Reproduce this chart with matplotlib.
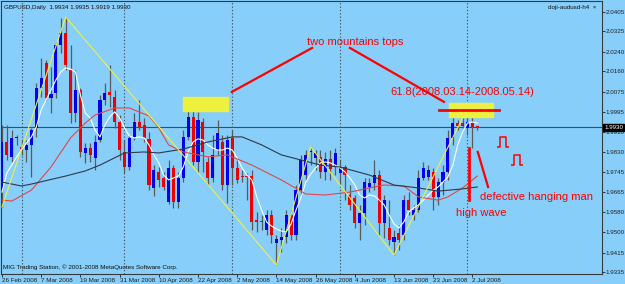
import matplotlib
matplotlib.use("Agg")
import matplotlib.pyplot as plt
from matplotlib.path import Path
from matplotlib.transforms import blended_transform_factory

plt.rcParams['font.family'] = ['Liberation Sans', 'DejaVu Sans']

# daily GBPUSD bars, left to right
opens = [1.9672, 1.9870, 1.9809, 1.9885, 1.9850, 1.9837, 1.9858, 1.9928, 2.0092, 2.0196,
         2.0051, 2.0072, 2.0269, 2.0319, 2.0166, 1.9989, 2.0084, 1.9825, 1.9845, 1.9804,
         1.9878, 2.0043, 2.0076, 2.0055, 1.9952, 1.9829, 1.9767, 1.9887, 1.9952, 1.9940,
         1.9883, 1.9681, 1.9747, 1.9722, 1.9623, 1.9763, 1.9623, 1.9722, 1.9891, 1.9973,
         1.9788, 1.9952, 1.9788, 1.9722, 1.9837, 1.9870, 1.9693, 1.9887, 1.9763, 1.9732,
         1.9732, 1.9730, 1.9549, 1.9543, 1.9508, 1.9570, 1.9455, 1.9467, 1.9479, 1.9570,
         1.9487, 1.9672, 1.9734, 1.9827, 1.9804, 1.9809, 1.9747, 1.9800, 1.9767, 1.9743,
         1.9767, 1.9652, 1.9640, 1.9537, 1.9578, 1.9685, 1.9701, 1.9734, 1.9537, 1.9516,
         1.9459, 1.9496, 1.9487, 1.9631, 1.9570, 1.9590, 1.9722, 1.9726, 1.9747, 1.9644,
         1.9705, 1.9747, 1.9887, 1.9948, 1.9948, 1.9928, 1.9948, 1.9934]
highs = [1.9940, 1.9940, 1.9919, 1.9899, 1.9878, 1.9878, 1.9928, 2.0113, 2.0216, 2.0208,
         2.0179, 2.0282, 2.0380, 2.0384, 2.0269, 2.0166, 2.0092, 1.9866, 1.9866, 1.9899,
         2.0064, 2.0113, 2.0187, 2.0084, 1.9981, 1.9878, 1.9899, 1.9989, 2.0043, 1.9969,
         1.9911, 1.9775, 1.9767, 1.9747, 1.9796, 1.9775, 1.9747, 1.9919, 2.0014, 2.0014,
         1.9994, 1.9969, 1.9809, 1.9899, 1.9961, 1.9899, 1.9899, 1.9919, 1.9796, 1.9755,
         1.9743, 1.9755, 1.9582, 1.9570, 1.9590, 1.9590, 1.9487, 1.9516, 1.9590, 1.9590,
         1.9693, 1.9817, 1.9837, 1.9850, 1.9837, 1.9837, 1.9829, 1.9837, 1.9845, 1.9796,
         1.9775, 1.9693, 1.9652, 1.9611, 1.9722, 1.9722, 1.9796, 1.9755, 1.9652, 1.9631,
         1.9508, 1.9529, 1.9652, 1.9664, 1.9611, 1.9755, 1.9788, 1.9775, 1.9763, 1.9722,
         1.9775, 1.9919, 1.9981, 1.9961, 1.9969, 2.0002, 1.9973, 1.9935]
lows = [1.9603, 1.9796, 1.9788, 1.9858, 1.9817, 1.9788, 1.9726, 1.9891, 2.0055, 2.0043,
        1.9989, 2.0051, 2.0236, 2.0166, 1.9948, 1.9952, 1.9809, 1.9784, 1.9788, 1.9755,
        1.9870, 2.0022, 2.0014, 1.9928, 1.9796, 1.9743, 1.9755, 1.9878, 1.9919, 1.9870,
        1.9672, 1.9648, 1.9685, 1.9672, 1.9615, 1.9599, 1.9599, 1.9705, 1.9878, 1.9775,
        1.9747, 1.9747, 1.9693, 1.9705, 1.9817, 1.9672, 1.9619, 1.9693, 1.9701, 1.9705,
        1.9631, 1.9508, 1.9500, 1.9508, 1.9487, 1.9455, 1.9364, 1.9417, 1.9455, 1.9467,
        1.9467, 1.9652, 1.9714, 1.9775, 1.9755, 1.9722, 1.9714, 1.9714, 1.9734, 1.9693,
        1.9631, 1.9590, 1.9516, 1.9467, 1.9529, 1.9664, 1.9672, 1.9487, 1.9475, 1.9446,
        1.9405, 1.9426, 1.9467, 1.9570, 1.9549, 1.9582, 1.9714, 1.9714, 1.9590, 1.9611,
        1.9652, 1.9714, 1.9858, 1.9919, 1.9928, 1.9899, 1.9845, 1.9919]
closes = [1.9870, 1.9817, 1.9887, 1.9889, 1.9841, 1.9858, 1.9919, 2.0092, 2.0133, 2.0051,
          2.0068, 2.0269, 2.0319, 2.0187, 1.9989, 2.0084, 1.9829, 1.9845, 1.9817, 1.9870,
          2.0043, 2.0072, 2.0064, 1.9952, 1.9837, 1.9767, 1.9887, 1.9952, 1.9932, 1.9887,
          1.9693, 1.9755, 1.9714, 1.9685, 1.9763, 1.9623, 1.9722, 1.9891, 1.9973, 1.9788,
          1.9961, 1.9829, 1.9722, 1.9817, 1.9907, 1.9693, 1.9878, 1.9763, 1.9714, 1.9728,
          1.9728, 1.9541, 1.9541, 1.9539, 1.9570, 1.9487, 1.9471, 1.9479, 1.9570, 1.9487,
          1.9672, 1.9796, 1.9817, 1.9831, 1.9825, 1.9747, 1.9800, 1.9759, 1.9825, 1.9767,
          1.9734, 1.9611, 1.9537, 1.9578, 1.9705, 1.9701, 1.9734, 1.9537, 1.9631, 1.9467,
          1.9479, 1.9467, 1.9631, 1.9590, 1.9590, 1.9722, 1.9763, 1.9755, 1.9644, 1.9705,
          1.9747, 1.9887, 1.9948, 1.9936, 1.9936, 1.9952, 1.9932, 1.9930]

# indicator lines
ma_fast = [1.9664, 1.9743, 1.9775, 1.9809, 1.9837, 1.9866, 1.9891, 1.9932, 2.0002, 2.0043,
           2.0084, 2.0125, 2.0158, 2.0175, 2.0170, 2.0158, 2.0064, 1.9989, 1.9969, 1.9919,
           1.9891, 1.9940, 1.9973, 1.9994, 1.9969, 1.9928, 1.9895, 1.9887, 1.9891, 1.9887,
           1.9858, 1.9817, 1.9784, 1.9734, 1.9714, 1.9722, 1.9730, 1.9767, 1.9829, 1.9870,
           1.9883, 1.9878, 1.9858, 1.9845, 1.9837, 1.9837, 1.9845, 1.9837, 1.9804, 1.9763,
           1.9734, 1.9714, 1.9644, 1.9590, 1.9541, 1.9524, 1.9512, 1.9504, 1.9500, 1.9533,
           1.9590, 1.9640, 1.9705, 1.9738, 1.9763, 1.9784, 1.9788, 1.9784, 1.9775, 1.9763,
           1.9747, 1.9722, 1.9693, 1.9652, 1.9640, 1.9652, 1.9648, 1.9631, 1.9611, 1.9570,
           1.9533, 1.9516, 1.9541, 1.9582, 1.9599, 1.9611, 1.9631, 1.9652, 1.9672, 1.9685,
           1.9705, 1.9726, 1.9775, 1.9858, 1.9911, 1.9948, 1.9952, 1.9948]
ma_mid_x = [0, 2, 6, 10, 14, 17, 19, 23, 26, 30, 32, 34, 37, 42, 46, 51, 57, 62, 66,
            71, 75, 78, 82, 85, 89, 91, 94, 97]
ma_mid = [1.9631, 1.9627, 1.9672, 1.9767, 1.9887, 1.9948, 1.9981, 2.0010, 2.0010, 1.9977,
          1.9928, 1.9858, 1.9829, 1.9809, 1.9817, 1.9775, 1.9714, 1.9656, 1.9652, 1.9664,
          1.9681, 1.9693, 1.9689, 1.9644, 1.9631, 1.9644, 1.9681, 1.9730]
ma_slow_x = [0, 4, 6, 13, 17, 20, 25, 29, 32, 37, 42, 47, 49, 53, 57, 61, 65, 69, 75,
             80, 85, 89, 94, 97]
ma_slow = [1.9705, 1.9689, 1.9697, 1.9730, 1.9751, 1.9775, 1.9825, 1.9829, 1.9825, 1.9841,
           1.9870, 1.9891, 1.9891, 1.9858, 1.9817, 1.9796, 1.9775, 1.9767, 1.9734, 1.9693,
           1.9681, 1.9668, 1.9677, 1.9685]
zigzag_x = [0, 13, 56, 63, 80, 94]
zigzag = [1.9603, 2.0384, 1.9364, 1.9850, 1.9405, 1.9969]

date_labels = ['26 Feb 2008', '7 Mar 2008', '19 Mar 2008', '31 Mar 2008', '10 Apr 2008',
               '22 Apr 2008', '2 May 2008', '14 May 2008', '26 May 2008', '4 Jun 2008',
               '13 Jun 2008', '23 Jun 2008', '2 Jul 2008']
price_ticks = [2.0405, 2.0325, 2.0240, 2.0160, 2.0075, 1.9995, 1.9910, 1.9830,
               1.9745, 1.9665, 1.9580, 1.9500, 1.9415, 1.9335]
separators = [4, 25, 47, 69, 95]
last_price = 1.9930

bg = '#87cefa'
small = 4.5
fig = plt.figure(figsize=(6.25, 2.84), dpi=100, facecolor=bg)
ax = fig.add_axes([1 / 625, 10 / 284, 601 / 625, 273 / 284], facecolor=bg)

n = len(closes)
idx = list(range(n))
ax.vlines(idx, lows, highs, color='#5a5a5a', lw=0.9, zorder=2)
body_col = ['#0000ee' if c > o else ('#ee0000' if c < o else '#202020') for o, c in zip(opens, closes)]
bottoms = [min(o, c) for o, c in zip(opens, closes)]
heights = [max(abs(c - o), 0.0003) for o, c in zip(opens, closes)]
ax.bar(idx, heights, bottom=bottoms, width=0.62, color=body_col, lw=0, zorder=3)

ax.plot(idx, ma_fast, color='white', lw=0.8, zorder=4)
ax.plot(ma_mid_x, ma_mid, color='#e04848', lw=0.8, zorder=4)
ax.plot(ma_slow_x, ma_slow, color='#2e3a44', lw=0.8, zorder=4)
ax.plot(zigzag_x, zigzag, color='#f0f040', lw=0.8, zorder=4)

ax.axhline(last_price, color='#4a4a4a', lw=0.8, zorder=1)
for s in separators:
    ax.axvline(s, color='#4a5560', lw=0.8, ls=(0, (1.2, 1.8)), zorder=1)

# objects drawn on the chart
ax.add_patch(plt.Rectangle((36.9, 1.9998), 9.2, 0.0057, color='#eef040', zorder=5))
ax.add_patch(plt.Rectangle((91.2, 1.9973), 9.0, 0.0058, color='#eef040', zorder=5))
ax.plot([89.2, 101.4], [2.0002, 2.0002], color='red', lw=2, zorder=6)
ax.plot([46.9, 63.3], [2.0076, 2.0257], color='red', lw=1.6, zorder=6)
ax.plot([71.0, 90.2], [2.0257, 2.0035], color='red', lw=1.6, zorder=6)
ax.plot([95.3, 95.3], [1.9845, 1.9631], color='red', lw=2, zorder=6)
ax.plot([97.1, 99.2], [1.9829, 1.9685], color='red', lw=1.6, zorder=6)

pulse = Path([(-1, -0.8), (-0.45, -0.8), (-0.45, 0.8), (0.45, 0.8), (0.45, -0.8), (1, -0.8)])
ax.plot([102.2, 105.1], [1.9872, 1.9798], ls='none', marker=pulse, markersize=9,
        markerfacecolor='none', markeredgecolor='red', markeredgewidth=1.1, zorder=6)

ax.text(62.2, 2.0282, 'two mountains tops', color='red', fontsize=8, va='center', ha='left')
ax.text(79.2, 2.0076, '61.8(2008.03.14-2008.05.14)', color='red', fontsize=8, va='center', ha='left')
ax.text(97.6, 1.9644, 'defective hanging man', color='red', fontsize=8, va='center', ha='left')
ax.text(92.7, 1.9578, 'high wave', color='red', fontsize=8, va='center', ha='left')

ax.text(0.005, 0.978, 'GBPUSD,Daily  1.9934 1.9935 1.9919 1.9930', transform=ax.transAxes,
        fontsize=small, va='center', ha='left', color='#101010')
ax.text(0.99, 0.978, 'doji-audusd-h4  ×', transform=ax.transAxes,
        fontsize=small, va='center', ha='right', color='#101010')
ax.text(0.004, 0.024, 'MIG Trading Station, © 2001-2008 MetaQuotes Software Corp.',
        transform=ax.transAxes, fontsize=small, va='center', ha='left', color='#101010')

tr = blended_transform_factory(ax.transAxes, ax.transData)
ax.text(1.004, last_price, '1.9930', transform=tr, fontsize=small, color='white',
        va='center', ha='left', zorder=10,
        bbox=dict(boxstyle='square,pad=0.15', fc='black', ec='black'))

ax.set_xlim(-0.2, 122.45)
ax.set_ylim(1.9327, 2.0450)
ax.yaxis.tick_right()
ax.set_yticks(price_ticks)
ax.set_yticklabels([f'{p:.4f}' for p in price_ticks])
ax.set_xticks(list(range(0, 8 * len(date_labels), 8)))
ax.set_xticklabels(date_labels, ha='left')
ax.tick_params(axis='both', labelsize=small, length=2, width=0.6, pad=0.8, colors='#202020')
for sp in ax.spines.values():
    sp.set_color('#3a3a3a')
    sp.set_linewidth(0.8)

fig.savefig('out.png', dpi=100, facecolor=bg)
